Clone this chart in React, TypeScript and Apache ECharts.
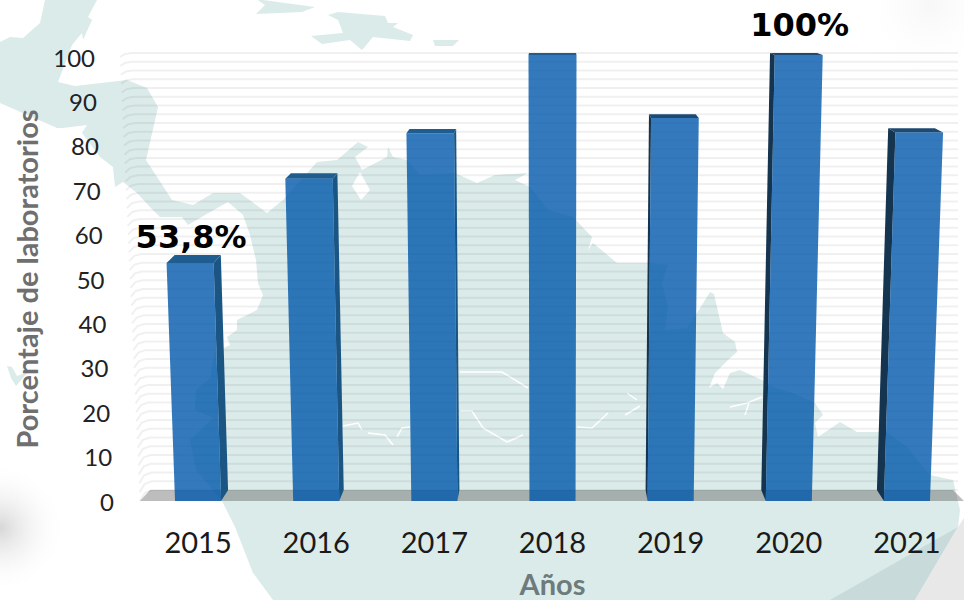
import React, { useEffect, useRef } from "react";
import * as echarts from "echarts";

const years = ["2015", "2016", "2017", "2018", "2019", "2020", "2021"];
const values = [53.8, 72.5, 82.6, 100, 86, 100, 82.8];
const valueLabels = ["53,8%", "", "", "", "", "100%", ""];
const yTicks = [0, 10, 20, 30, 40, 50, 60, 70, 80, 90, 100];
const stripeValues = [0, 2, 4, 6, 8, 10, 12, 14, 16, 18, 20, 22, 24, 26, 28, 30, 32, 34, 36, 38, 40, 42, 44, 46, 48, 50, 52, 54, 56, 58, 60, 62, 64, 66, 68, 70, 72, 74, 76, 78, 80, 82, 84, 86, 88, 90, 92, 94, 96, 98, 100];

// Decorative background map
const landMain = [[45,0],[97,0],[88,17],[92,20],[83,40],[82,33],[72,45],[58,82],[75,86],[127,80],[147,88],[158,107],[146,160],[172,200],[193,205],[213,193],[240,193],[267,213],[283,200],[317,162],[337,160],[358,142],[368,147],[355,157],[362,170],[387,157],[388,147],[393,157],[407,160],[420,175],[455,173],[477,183],[495,175],[528,173],[515,180],[530,187],[548,210],[573,217],[592,237],[588,250],[593,243],[617,263],[648,263],[668,265],[662,283],[668,307],[665,330],[687,328],[697,313],[710,292],[714,294],[723,333],[735,342],[737,352],[728,360],[715,373],[709,388],[717,383],[723,389],[730,373],[740,370],[762,380],[773,387],[793,393],[815,403],[823,415],[815,423],[818,437],[840,422],[857,432],[887,432],[907,447],[930,475],[953,480],[960,510],[958,527],[915,600],[273,600],[253,573],[235,527],[222,501],[196,470],[190,440],[213,418],[195,410],[196,390],[210,378],[215,352],[230,345],[227,337],[237,330],[237,320],[257,310],[263,295],[258,283],[256,260],[250,235],[243,215],[228,202],[205,215],[188,225],[182,217],[160,217],[150,207],[137,193],[123,182],[115,187],[113,167],[100,157],[82,133],[87,125],[63,128],[57,128],[0,103],[0,42],[10,37],[23,38],[40,23]];
const landShade = [[958,527],[915,600],[830,600]];
const landCornerGrey = [[958,527],[964,518],[964,600],[915,600]];
const islandA = [[263,0],[315,7],[302,12],[256,14],[265,5],[258,0]];
const islandB = [[328,15],[338,12],[385,16],[388,23],[398,23],[393,27],[413,35],[410,41],[373,37],[362,50],[350,40],[322,44],[311,36],[343,33],[338,20]];
const islandC = [[433,40],[459,40],[453,46],[435,46]];
const lakeD = [[352,186],[360,172],[370,190],[361,200]];
const chevron = [[7,366],[12,367],[17,376],[28,372],[16,386],[11,378]];
const rivers = [
  [[343,426],[358,423],[362,430]],
  [[368,433],[385,435],[393,445]],
  [[397,437],[402,428],[410,427]],
  [[460,372],[502,372],[528,388]],
  [[460,411],[472,411],[483,428],[507,442],[523,435]],
  [[577,427],[592,428],[608,413]],
  [[625,415],[640,406]],
  [[627,393],[637,400]],
  [[730,407],[747,403],[762,397]],
  [[745,415],[749,403]],
];

const LAND = "#dbebe9";

export default function App() {
  const ref = useRef<HTMLDivElement>(null);
  useEffect(() => {
    const chart = echarts.init(ref.current!, undefined, { renderer: "svg" });
    const poly = (points: number[][], fill: string) => ({ type: "polygon", silent: true, shape: { points }, style: { fill } });

    const renderFloor = (_p: any, api: any) => {
      const b = api.coord([0, 0]);
      const hw = api.size([1, 0])[0] / 2;
      const left = b[0] - hw;
      const right = left + api.size([1, 0])[0] * 7;
      return {
        type: "polygon",
        shape: { points: [[left + 1, b[1] + 11], [left + 11, b[1]], [right - 13, b[1]], [right - 2, b[1] + 11]] },
        style: { fill: "rgba(50,50,50,0.32)" },
      };
    };

    const renderStripe = (_p: any, api: any) => {
      const v = api.value(1);
      const p = api.coord([0, v]);
      const hw = api.size([1, 0])[0] / 2;
      const left = p[0] - hw;
      const outer = left + 1 - 20 * (v / 100);
      const dy = 4 + 7 * (1 - v / 100);
      return {
        type: "polyline",
        shape: { points: [[outer, p[1] + dy], [outer + 5, p[1] + dy * 0.25], [outer + 12, p[1]], [left + 819, p[1]]] },
        style: { fill: "none", stroke: "rgba(0,0,0,0.06)", lineWidth: 2 },
      };
    };

    const renderBar = (p: any, api: any) => {
      const idx = api.value(0);
      const v = api.value(1);
      const base = api.coord([idx, 0]);
      const top = api.coord([idx, v]);
      const vp = api.coord([3, 0])[0];
      const w = api.size([1, 0])[0] * 0.39;
      const frontY = base[1] + 11;
      const frontTop = top[1] + 2 + (100 - v) * 0.13;
      const persp = 1 + 0.042 * (frontY - frontTop) / 446;
      const pTop = (x: number) => vp + (x - vp) * persp;
      const back = (x: number) => vp + (x - vp) * 0.979;
      const xl = base[0] - w / 2;
      const xr = base[0] + w / 2;
      const isLeft = base[0] < vp - 1;
      const isRight = base[0] > vp + 1;
      const children: any[] = [];
      if (isLeft || isRight) {
        const e = isLeft ? xr : xl;
        children.push({
          type: "polygon",
          shape: { points: [[e, frontY], [pTop(e), frontTop], [back(pTop(e)), top[1]], [back(e), base[1]]] },
          style: { fill: isLeft ? "#1b5584" : "#15344f" },
        });
      }
      children.push({
        type: "polygon",
        shape: { points: [[pTop(xl), frontTop], [pTop(xr), frontTop], [back(pTop(xr)), top[1]], [back(pTop(xl)), top[1]]] },
        style: { fill: isRight ? "#1c4a72" : "#1f5c90" },
      });
      children.push({
        type: "polygon",
        shape: { points: [[xl, frontY], [xr, frontY], [pTop(xr), frontTop], [pTop(xl), frontTop]] },
        style: { fill: "rgba(0,88,170,0.8)" },
      });
      const text = valueLabels[idx];
      if (text) {
        const gap = v < 100 ? 18 : 28;
        children.push({
          type: "text",
          x: (pTop(xl) + pTop(xr)) / 2 + 1,
          y: top[1] - gap,
          style: { text, fill: "#000", font: "bold 32px 'DejaVu Sans'", textAlign: "center", textVerticalAlign: "middle" },
        });
      }
      return { type: "group", children };
    };

    const rich: Record<string, any> = {};
    yTicks.forEach((t) => {
      rich["t" + t] = { fontFamily: "Lato", fontSize: 24, color: "#222", padding: [0, (19 * t) / 100, 0, 0] };
    });

    chart.setOption({
      animation: false,
      backgroundColor: "#ffffff",
      graphic: [
        { type: "rect", silent: true, shape: { x: 0, y: 450, width: 70, height: 150 }, style: { fill: new echarts.graphic.RadialGradient(0, 528, 65, [{ offset: 0, color: "rgba(205,205,205,0.8)" }, { offset: 1, color: "rgba(255,255,255,0)" }], true) } },
        { type: "rect", silent: true, shape: { x: 850, y: 0, width: 114, height: 80 }, style: { fill: new echarts.graphic.RadialGradient(930, 5, 75, [{ offset: 0, color: "#f7f7f7" }, { offset: 1, color: "rgba(255,255,255,0)" }], true) } },
        poly(landMain, LAND),
        poly(landShade, "#c8dbda"),
        poly(landCornerGrey, "#e8e8e8"),
        poly(islandA, LAND),
        poly(islandB, LAND),
        poly(islandC, LAND),
        poly(chevron, LAND),
        poly(lakeD, "#ffffff"),
        ...rivers.map((points) => ({ type: "polyline", silent: true, shape: { points }, style: { fill: "none", stroke: "#ffffff", lineWidth: 1.5 } })),
      ],
      grid: [
        { left: 139, top: 57, width: 827, height: 444, outerBoundsMode: "none" },
        { left: 139, top: 53, width: 827, height: 437, outerBoundsMode: "none" },
      ],
      xAxis: [
        {
          type: "category",
          gridIndex: 0,
          data: years,
          axisLine: { show: false },
          axisTick: { show: false },
          axisLabel: { fontFamily: "Lato", fontSize: 29, color: "#1a1a1a", margin: 26 },
          name: "Años",
          nameLocation: "middle",
          nameGap: 68,
          nameTextStyle: { fontFamily: "Lato", fontSize: 29, fontWeight: "bold", color: "#6e7b7c" },
        },
        { type: "category", gridIndex: 1, data: years, show: false },
      ],
      yAxis: [
        {
          type: "value",
          gridIndex: 0,
          min: 0,
          max: 100,
          interval: 10,
          axisLine: { show: false },
          axisTick: { show: false },
          splitLine: { show: false },
          axisLabel: { margin: 25, formatter: (t: number) => `{t${t}|${t}}`, rich },
          name: "Porcentaje de laboratorios",
          nameLocation: "middle",
          nameRotate: 90,
          nameGap: 98,
          nameTextStyle: { fontFamily: "Lato", fontSize: 29, fontWeight: "bold", color: "#6f6f6f" },
        },
        { type: "value", gridIndex: 1, min: 0, max: 100, show: false },
      ],
      series: [
        { type: "custom", xAxisIndex: 1, yAxisIndex: 1, z: 2, silent: true, renderItem: renderStripe, data: stripeValues.map((v) => [0, v]) },
        { type: "custom", xAxisIndex: 1, yAxisIndex: 1, z: 3, silent: true, renderItem: renderFloor, data: [[0, 0]] },
        { type: "custom", xAxisIndex: 1, yAxisIndex: 1, z: 4, silent: true, renderItem: renderBar, data: values.map((v, i) => [i, v]) },
      ],
    });
    return () => chart.dispose();
  }, []);
  return <div ref={ref} style={{ position: "fixed", left: 0, top: 0, width: 964, height: 600 }} />;
}
